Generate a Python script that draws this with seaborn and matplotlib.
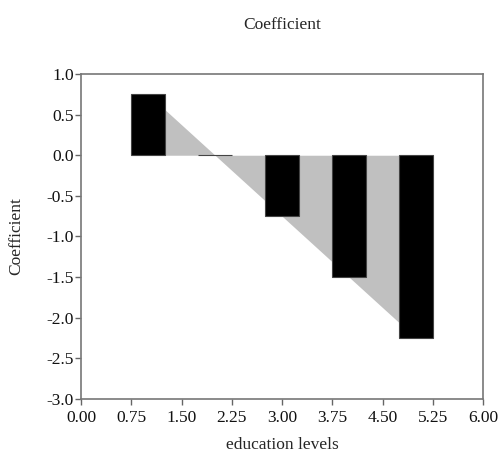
import matplotlib
matplotlib.use("Agg")
import matplotlib.pyplot as plt
import seaborn as sns
import numpy as np

levels = [1, 2, 3, 4, 5]
coefs = [0.75, 0.0, -0.75, -1.5, -2.25]
xticks = [0.00, 0.75, 1.50, 2.25, 3.00, 3.75, 4.50, 5.25, 6.00]
yticks = [1.0, 0.5, 0.0, -0.5, -1.0, -1.5, -2.0, -2.5, -3.0]

sns.set_style("white")
plt.rcParams['font.family'] = ['Liberation Serif', 'DejaVu Serif']

fig = plt.figure(figsize=(4.98, 4.55), dpi=100)
ax = fig.add_axes([0.1627, 0.1231, 0.8073, 0.7143])

ax.fill_between(levels, coefs, 0, color='#c0c0c0', linewidth=0, zorder=1)
sns.barplot(x=levels, y=coefs, native_scale=True, width=0.5, color='black',
            saturation=1, edgecolor='#444444', linewidth=0.8, ax=ax, zorder=2)

ax.set_xlim(0, 6)
ax.set_ylim(-3, 1)
ax.set_xticks(xticks)
ax.set_xticklabels([f"{v:.2f}" for v in xticks], fontsize=12.5)
ax.set_yticks(yticks)
ax.set_yticklabels([f"{v:.1f}" for v in yticks], fontsize=12.5)
ax.tick_params(axis='both', direction='out', length=4, width=1, color='#666666',
               labelcolor='#111111', bottom=True, left=True)
ax.tick_params(axis='x', pad=4)
ax.tick_params(axis='y', pad=1)
for s in ax.spines.values():
    s.set_color('#777777')
    s.set_linewidth(1.2)

ax.set_xlabel("education levels", fontsize=12.5, labelpad=8)
ax.set_ylabel("Coefficient", fontsize=12.5, labelpad=16)
fig.text(0.566, 0.946, "Coefficient", ha='center', va='center', fontsize=12.5)

fig.savefig("out.png", dpi=100)
